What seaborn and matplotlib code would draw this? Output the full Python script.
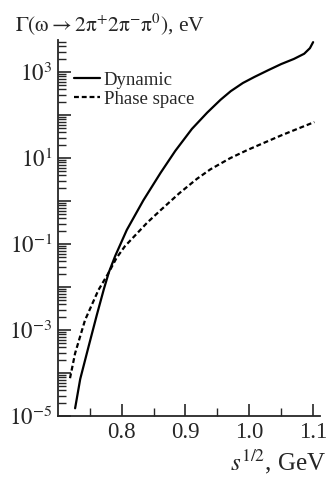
import numpy as np
import pandas as pd
import matplotlib
matplotlib.use('Agg')
import matplotlib.pyplot as plt
import seaborn as sns
from matplotlib.ticker import LogLocator, FixedLocator, NullFormatter

# values (log10 of the width in eV)
dyn_x = [0.727, 0.735, 0.748, 0.761, 0.772, 0.780, 0.790, 0.808, 0.834, 0.861, 0.884, 0.910,
         0.934, 0.955, 0.971, 0.990, 1.008, 1.030, 1.050, 1.070, 1.086, 1.095, 1.100]
dyn_logy = [-4.82, -4.14, -3.39, -2.65, -2.05, -1.65, -1.27, -0.67, 0.02, 0.66, 1.17, 1.68,
            2.06, 2.36, 2.56, 2.75, 2.89, 3.05, 3.19, 3.31, 3.43, 3.56, 3.70]
ps_x = [0.719, 0.727, 0.7425, 0.7635, 0.779, 0.792, 0.805, 0.819, 0.840, 0.861, 0.890, 0.918,
        0.939, 0.970, 0.997, 1.025, 1.050, 1.075, 1.102]
ps_logy = [-4.12, -3.54, -2.77, -2.07, -1.68, -1.32, -1.05, -0.83, -0.50, -0.21, 0.18, 0.52,
           0.74, 1.00, 1.19, 1.37, 1.53, 1.68, 1.84]

df = pd.concat([
    pd.DataFrame({'x': dyn_x, 'y': 10.0 ** np.array(dyn_logy), 'curve': 'Dynamic'}),
    pd.DataFrame({'x': ps_x, 'y': 10.0 ** np.array(ps_logy), 'curve': 'Phase space'}),
])

sns.set_style('ticks')
plt.rcParams['font.family'] = ['Liberation Serif', 'DejaVu Serif']
plt.rcParams['mathtext.fontset'] = 'stix'

fig = plt.figure(figsize=(3.27, 4.79), dpi=100)
ax = fig.add_axes([0.177, 0.1315, 0.802, 0.785])

sns.lineplot(data=df, x='x', y='y', style='curve', color='black', linewidth=1.6,
             dashes={'Dynamic': '', 'Phase space': (2.2, 1.3)}, ax=ax, legend=True)
ax.set_yscale('log')
ax.set_xlim(0.7, 1.111)
ax.set_ylim(1e-5, 10 ** 3.75)
ax.set_xlabel('')
ax.set_ylabel('')

ax.xaxis.set_major_locator(FixedLocator([0.8, 0.9, 1.0, 1.1]))
ax.xaxis.set_minor_locator(FixedLocator([0.75, 0.85, 0.95, 1.05]))
ax.set_xticklabels(['0.8', '0.9', '1.0', '1.1'])
ax.yaxis.set_minor_locator(LogLocator(base=10, subs=np.arange(2, 10), numticks=20))
ax.yaxis.set_minor_formatter(NullFormatter())
ax.set_yticks([1e-5, 1e-4, 1e-3, 1e-2, 1e-1, 1, 10, 100, 1e3])
ax.set_yticklabels([r'$10^{-5}$', '', r'$10^{-3}$', '', r'$10^{-1}$', '', r'$10^{1}$', '', r'$10^{3}$'])

ax.tick_params(which='major', direction='in', length=9, width=1.2, labelsize=16.5, pad=4)
ax.tick_params(which='minor', direction='in', length=6, width=1.0)
for s in ['left', 'bottom']:
    ax.spines[s].set_linewidth(1.3)
sns.despine(ax=ax)

ax.legend(loc='upper left', bbox_to_anchor=(0.025, 0.94), frameon=False, fontsize=13.5,
          handlelength=1.4, handletextpad=0.2, labelspacing=0.1, borderpad=0)

fig.text(0.045, 0.95, r'$\Gamma(\mathrm{\omega} \rightarrow 2\mathrm{\pi}^{+}2\mathrm{\pi}^{-}\mathrm{\pi}^{0})$, eV',
         fontsize=15.5, ha='left', va='center')
fig.text(0.998, 0.035, r'$s^{1/2}$, GeV', fontsize=18, ha='right', va='center')

fig.savefig('out.png', dpi=100)
